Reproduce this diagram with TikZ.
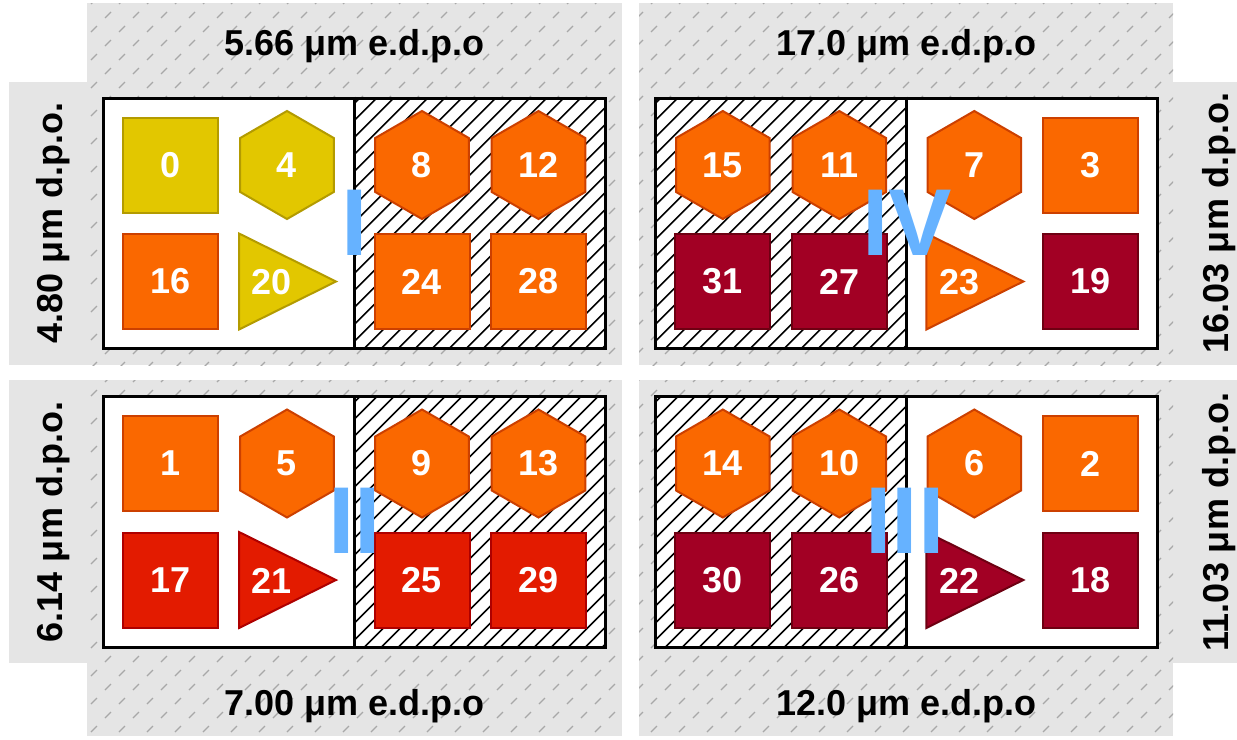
\documentclass[tikz,border=0pt]{standalone}
\usepackage{fontspec}
\setmainfont{Liberation Sans}
\usetikzlibrary{shapes.geometric}
\definecolor{bandgray}{HTML}{E5E5E5}
\definecolor{dashgray}{HTML}{A8A8A8}
\definecolor{ylwfill}{HTML}{E2C700}
\definecolor{ylwline}{HTML}{B39B00}
\definecolor{orgfill}{HTML}{FA6800}
\definecolor{orgline}{HTML}{CC4000}
\definecolor{redfill}{HTML}{E31B00}
\definecolor{redline}{HTML}{AE0000}
\definecolor{drkfill}{HTML}{A20024}
\definecolor{drkline}{HTML}{6E0012}
\definecolor{numblue}{HTML}{66B2FF}

\newcommand\mydashpanel[8]{%
  \fill[bandgray] (#1,#2) rectangle (#3,#4);
  \begin{scope}
    \clip (#1,#2) rectangle (#3,#4);
    \foreach \ri in {#5,...,#6}{\foreach \ci in {#7,...,#8}{
      \draw[dashmark] ({10+28*\ci+14*mod(\ri,2)},{1+14*\ri}) +(-3,3) -- +(3,-3);}}
  \end{scope}}

\newcommand\myhatch[4]{%
  \fill[white] (#1,#2) rectangle (#3,#4);
  \begin{scope}
    \clip (#1,#2) rectangle (#3,#4);
    \foreach \ki in {0,...,32}{\draw[hatchline] ({#1-266+17*\ki},{#4+4}) -- ++(264,-264);}
  \end{scope}}

\newcommand\mytri[5]{%
  \draw[#1,triline] ({#2-48},{#3-48}) -- ({#2-48},{#3+48}) -- ({#2+49},{#3}) -- cycle;
  \node[tlab] (#4) at ({#2-15},{#3+0.5}) {#5};}

\begin{document}
\begin{tikzpicture}[x=1pt,y=-1pt,
  dashmark/.style={draw=dashgray,line width=1.3pt},
  hatchline/.style={draw=black,line width=1.6pt},
  numfont/.style={font=\bfseries\fontsize{36}{40}\selectfont},
  sq/.style={rectangle,draw,line width=2pt,minimum width=95pt,minimum height=95pt,inner sep=0pt,text=white,numfont},
  hx/.style={regular polygon,regular polygon sides=6,shape border rotate=30,draw,line width=2pt,line join=miter,minimum size=108pt,inner sep=0pt,text=white,numfont},
  triline/.style={line width=2pt,line join=miter},
  tlab/.style={inner sep=0pt,text=white,numfont},
  ylw/.style={fill=ylwfill,draw=ylwline},
  org/.style={fill=orgfill,draw=orgline},
  rd/.style={fill=redfill,draw=redline},
  drk/.style={fill=drkfill,draw=drkline},
  boxst/.style={rectangle,draw=black,line width=3pt,minimum width=502.5pt,minimum height=250.5pt,inner sep=0pt},
  divline/.style={draw=black,line width=2.5pt},
  lab/.style={font=\bfseries\fontsize{36}{40}\selectfont,inner sep=0pt,anchor=base},
  roman/.style={font=\bfseries\fontsize{95}{100}\selectfont,text=numblue,inner sep=0pt}]
\useasboundingbox (0,0) rectangle (1237,739);

% plain side bands
\fill[bandgray] (9,82) rectangle (622,365);
\fill[bandgray] (639,82) rectangle (1237,365);
\fill[bandgray] (9,380) rectangle (622,663);
\fill[bandgray] (639,380) rectangle (1237,663);
% dashed panels
\mydashpanel{87}{3}{622}{365}{0}{26}{2}{22}
\mydashpanel{639}{3}{1173}{365}{0}{26}{22}{42}
\mydashpanel{87}{380}{622}{736}{27}{53}{2}{22}
\mydashpanel{639}{380}{1173}{736}{27}{53}{22}{42}

% box interiors
\fill[white] (103,98) rectangle (354.3,348.5);
\myhatch{354.3}{98}{605.5}{348.5}
\myhatch{655.3}{98}{906.6}{348.5}
\fill[white] (906.6,98) rectangle (1158,348.5);
\fill[white] (103,396.8) rectangle (354.3,647.3);
\myhatch{354.3}{396.8}{605.5}{647.3}
\myhatch{655.3}{396.8}{906.6}{647.3}
\fill[white] (906.6,396.8) rectangle (1158,647.3);

% top-left shapes
\node[sq,ylw] (s0) at (170.5,165) {0};
\node[hx,ylw] (s4) at (287,165) {4};
\node[hx,org] (s8) at (422,165) {8};
\node[hx,org] (s12) at (538.5,165) {12};
\node[sq,org] (s16) at (170.5,281.5) {16};
\mytri{ylw}{287}{281.5}{s20}{20}
\node[sq,org] (s24) at (422,281.5) {24};
\node[sq,org] (s28) at (538.5,281.5) {28};
% top-right shapes
\node[hx,org] (s15) at (722.8,165) {15};
\node[hx,org] (s11) at (839.3,165) {11};
\node[hx,org] (s7) at (974.3,165) {7};
\node[sq,org] (s3) at (1090.8,165) {3};
\node[sq,drk] (s31) at (722.8,281.5) {31};
\node[sq,drk] (s27) at (839.3,281.5) {27};
\mytri{org}{974.3}{281.5}{s23}{23}
\node[sq,drk] (s19) at (1090.8,281.5) {19};
% bottom-left shapes
\node[sq,org] (s1) at (170.5,463.5) {1};
\node[hx,org] (s5) at (287,463.5) {5};
\node[hx,org] (s9) at (422,463.5) {9};
\node[hx,org] (s13) at (538.5,463.5) {13};
\node[sq,rd] (s17) at (170.5,580) {17};
\mytri{rd}{287}{580}{s21}{21}
\node[sq,rd] (s25) at (422,580) {25};
\node[sq,rd] (s29) at (538.5,580) {29};
% bottom-right shapes
\node[hx,org] (s14) at (722.8,463.5) {14};
\node[hx,org] (s10) at (839.3,463.5) {10};
\node[hx,org] (s6) at (974.3,463.5) {6};
\node[sq,org] (s2) at (1090.8,463.5) {2};
\node[sq,drk] (s30) at (722.8,580) {30};
\node[sq,drk] (s26) at (839.3,580) {26};
\mytri{drk}{974.3}{580}{s22}{22}
\node[sq,drk] (s18) at (1090.8,580) {18};

% box frames and dividers
\node[boxst] (boxA) at (354.25,223.25) {};
\node[boxst] (boxB) at (906.65,223.25) {};
\node[boxst] (boxC) at (354.25,522.05) {};
\node[boxst] (boxD) at (906.65,522.05) {};
\draw[divline] (boxA.north) -- (boxA.south);
\draw[divline] (boxB.north) -- (boxB.south);
\draw[divline] (boxC.north) -- (boxC.south);
\draw[divline] (boxD.north) -- (boxD.south);

% labels
\node[lab] (topA) at (354.3,55) {5.66 μm e.d.p.o};
\node[lab] (topB) at (906.5,55) {17.0 μm e.d.p.o};
\node[lab] (botA) at (354.3,715) {7.00 μm e.d.p.o};
\node[lab] (botB) at (906.5,715) {12.0 μm e.d.p.o};
\node[lab,rotate=90] (sideA) at (62,223) {4.80 μm d.p.o.};
\node[lab,rotate=90] (sideC) at (62,522) {6.14 μm d.p.o.};
\node[lab,rotate=90] (sideB) at (1228,223) {16.03 μm d.p.o.};
\node[lab,rotate=90] (sideD) at (1228,522) {11.03 μm d.p.o.};

% roman numerals
\node[roman] (numI) at (354.5,223) {I};
\node[roman] (numIV) at (907,223) {IV};
\node[roman] (numII) at (354.5,521) {II};
\node[roman] (numIII) at (905,521) {III};
\end{tikzpicture}
\end{document}
